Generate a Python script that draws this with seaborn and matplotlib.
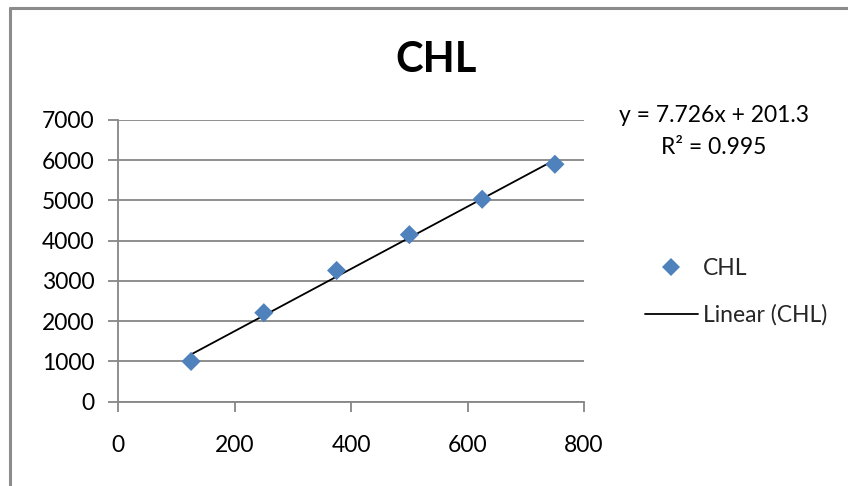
import numpy as np
import pandas as pd
import matplotlib
matplotlib.use("Agg")
import matplotlib.pyplot as plt
from matplotlib.lines import Line2D
import seaborn as sns

# ---- data ----
x_vals = [125, 250, 375, 500, 625, 750]
y_vals = [1000, 2210, 3260, 4150, 5030, 5900]
series_name = "CHL"
title_text = "CHL"
equation_text = "y = 7.726x + 201.3"
r2_text = "R² = 0.995"
x_ticks = [0, 200, 400, 600, 800]
y_ticks = [0, 1000, 2000, 3000, 4000, 5000, 6000, 7000]

sns.set_theme(style="white")
plt.rcParams['font.family'] = ['Lato', 'DejaVu Sans']

df = pd.DataFrame({"x": x_vals, "y": y_vals})
slope, intercept = np.polyfit(df["x"], df["y"], 1)
trend = pd.DataFrame({"x": [min(x_vals), max(x_vals)]})
trend["y"] = slope * trend["x"] + intercept

fig = plt.figure(figsize=(8.48, 4.86), dpi=100)
ax = fig.add_axes([0.1395, 0.1735, 0.6887 - 0.1395, 0.7531 - 0.1735])

blue = "#4F81BD"
grid_c = "#868686"

sns.lineplot(data=trend, x="x", y="y", ax=ax, color="black", linewidth=1.3, zorder=3)
sns.scatterplot(data=df, x="x", y="y", ax=ax, marker="D", s=95, color=blue,
                edgecolor="none", zorder=4)

ax.set_xlim(0, 800)
ax.set_ylim(0, 7000)
ax.set_xticks(x_ticks)
ax.set_yticks(y_ticks)
ax.set_xticklabels([str(t) for t in x_ticks])
ax.set_yticklabels([str(t) for t in y_ticks])
ax.set_xlabel("")
ax.set_ylabel("")

ax.yaxis.grid(True, color=grid_c, linewidth=1.3)
ax.xaxis.grid(False)
ax.set_axisbelow(True)
for side in ["top", "right"]:
    ax.spines[side].set_visible(False)
for side in ["left", "bottom"]:
    ax.spines[side].set_color(grid_c)
    ax.spines[side].set_linewidth(1.3)

ax.tick_params(axis="both", which="major", direction="out", length=7, width=1.3,
               color=grid_c, labelsize=16.5, labelcolor="black")
ax.tick_params(axis="y", pad=10)
ax.tick_params(axis="x", pad=17)
ax.tick_params(left=True, bottom=True)

# title
fig.text(436 / 848, 1 - 60 / 486, title_text, ha="center", va="center",
         fontsize=30, fontweight="bold", color="black")

# equation labels
fig.text(714 / 848, 1 - 116 / 486, equation_text, ha="center", va="center",
         fontsize=16.5, color="black")
fig.text(714 / 848, 1 - 147 / 486, r2_text, ha="center", va="center",
         fontsize=16.5, color="black")

# legend
handles = [
    Line2D([], [], marker="D", linestyle="none", color=blue, markersize=9.5,
           markeredgewidth=0),
    Line2D([], [], color="black", linewidth=1.3),
]
labels = [series_name, f"Linear ({series_name})"]
fig.legend(handles, labels, loc="center left",
           bbox_to_anchor=(645 / 848, 1 - 292 / 486), frameon=False,
           fontsize=16.5, handlelength=2.3, handletextpad=0.22,
           labelspacing=1.1, borderpad=0, borderaxespad=0)

# outer chart border (top and left visible)
fig.add_artist(Line2D([10 / 848, 1.0], [1 - 8 / 486, 1 - 8 / 486],
                      transform=fig.transFigure, color="#8c8c8c", linewidth=2.2))
fig.add_artist(Line2D([10 / 848, 10 / 848], [0.0, 1 - 8 / 486],
                      transform=fig.transFigure, color="#8c8c8c", linewidth=2.2))

fig.savefig("out.png", dpi=100, facecolor="white")
